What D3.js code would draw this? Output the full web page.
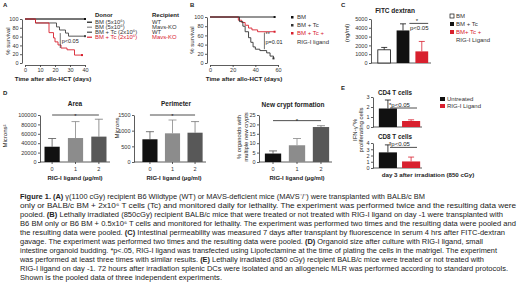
<!DOCTYPE html>
<html>
<head>
<meta charset="utf-8">
<script src="https://cdn.jsdelivr.net/npm/d3@7"></script>
<style>
  body { margin: 0; background: #fff; }
  text { font-family: "Liberation Sans", Arial, sans-serif; fill: #222; }
  .axis path, .axis line { stroke: #333; stroke-width: 0.8; }
  .axis text { font-size: 5.5px; fill: #333; }
</style>
</head>
<body>
<div id="fig"></div>
<script>
// ---- data ----
// panel A: survival, [day, % alive]
var survA_bmWt = [[0, 100], [40, 100]];
var survA_bmKo = [[0, 100], [40, 100]];
var survA_tcWt = [[0, 100], [7, 91], [21, 82], [23, 75], [27, 68], [29, 61], [40, 61]];
var survA_tcKo = [[0, 100], [7, 91], [16, 69], [19, 57], [20, 48], [22, 41], [24, 34], [28, 30], [33, 18], [38, 18]];
var daysA = [0, 10, 20, 30, 40];

// panel B: survival
var survB_bm = [[0, 100], [57, 100]];
var survB_tc = [[0, 100], [26, 90], [29, 80], [31, 68], [34, 55], [36, 45], [38, 35], [40, 30], [44, 27], [50, 22], [53, 15], [56, 10]];
var survB_rig = [[0, 100], [25, 93], [28, 88], [31, 82], [34, 76], [37, 72], [42, 68], [57, 68]];
var daysB = [0, 20, 40, 60];

// panel C: FITC dextran (ng/ml)
var fitcGroups = ["BM", "BM + Tc", "BM+ Tc + RIG-I Ligand"];
var fitcMean = [1500, 3700, 1320];
var fitcErr = [1770, 4450, 2450];

// panel D: organoids vs RIG-I ligand dose (µg/ml)
var doses = ["0", "1", "2"];
var areaMean = [32500, 51000, 54000];
var areaErr = [50000, 86000, 91000];
var perimMean = [725, 915, 935];
var perimErr = [967, 1340, 1290];
var cryptMean = [4.5, 8.9, 18.6];
var cryptErr = [5.9, 12.5, 19.3];

// panel E: IFN-g+ % proliferating cells
var eGroups = ["Untreated", "RIG-I Ligand"];
var cd4Mean = [1.85, 0.6];
var cd4Err = [2.7, 0.72];
var cd8Mean = [2.5, 1.05];
var cd8Err = [3.7, 1.75];

var RED = "#d8202e";

var caption = [
  "**Figure 1. (A)** γ(1100 cGy) recipient B6 Wildtype (WT) or MAVS-deficient mice (MAVS⁻/⁻)  were transplanted with BALB/c BM",
  "only or BALB/c BM + 2x10⁶ T cells (Tc) and monitored daily for lethality. The experiment was performed twice and the resulting data were",
  "pooled. **(B)** Lethally irradiated (850cGy) recipient BALB/c mice that were treated or not treated with RIG-I ligand on day -1 were transplanted with",
  "B6 BM only or B6 BM + 0.5x10⁶ T cells and monitored for lethality. The experiment was performed two times and the resulting data were pooled and",
  "the resulting data were pooled. **(C)** Intestinal permeability was measured 7 days after transplant by fluorescence in serum 4 hrs after FITC-dextran",
  "gavage. The experiment was performed two times and the resulting data were pooled.  **(D)** Organoid size after culture with RIG-I ligand, small",
  "intestine organoid budding. *p<.05, RIG-I ligand was transfected using Lipofectamine at the time of plating the cells in the matrigel. The experiment",
  "was performed at least three times with similar results. **(E)** Lethally irradiated (850 cGy) recipient BALB/c mice were treated or not treated with",
  "RIG-I ligand on day -1. 72 hours after irradiation splenic DCs were isolated and an allogeneic MLR was performed according to standard protocols.",
  "Shown is the pooled data of  three independent experiments."
];
var captionEnds = [425, 516, 503, 516, 505, 483, 497, 484, 508, 222];

// ---- svg ----
var svg = d3.select("#fig").append("svg")
  .attr("width", 520)
  .attr("height", 286);

function label(x, y, t, size, bold, anchor, color) {
  return svg.append("text")
    .attr("x", x).attr("y", y)
    .attr("font-size", size)
    .attr("font-weight", bold ? "bold" : "normal")
    .attr("text-anchor", anchor || "start")
    .style("fill", color || "#222")
    .text(t);
}

function vlabel(x, y, t, size) {
  return svg.append("text")
    .attr("transform", "translate(" + x + "," + y + ") rotate(-90)")
    .attr("font-size", size)
    .attr("text-anchor", "middle")
    .text(t);
}

// panel letters
label(3, 7, "A", 6, true);
label(190, 7, "B", 6, true);
label(341, 7, "C", 6, true);
label(3, 95, "D", 6, true);
label(341, 90, "E", 6, true);

// ---- survival helper ----
function survival(o) {
  var x = d3.scaleLinear().domain(o.xDomain).range(o.xRange);
  var y = d3.scaleLinear().domain([0, 100]).range(o.yRange);
  var g = svg.append("g");

  g.append("g").attr("class", "axis")
    .attr("transform", "translate(0," + (o.yRange[0] + 2) + ")")
    .call(d3.axisBottom(x).tickValues(o.ticks).tickSize(2).tickPadding(1).tickSizeOuter(0));
  g.append("g").attr("class", "axis")
    .attr("transform", "translate(" + (o.xRange[0] - 3) + ",0)")
    .call(d3.axisLeft(y).tickValues([0, 20, 40, 60, 80, 100]).tickSize(2).tickPadding(1.5).tickSizeOuter(0));

  var line = d3.line()
    .x(d => x(d[0]))
    .y(d => y(d[1]))
    .curve(d3.curveStepAfter);

  o.series.forEach(function (s) {
    g.append("path")
      .datum(s.data)
      .attr("d", line)
      .attr("fill", "none")
      .attr("stroke", s.color)
      .attr("stroke-width", 0.9);
    var last = s.data[s.data.length - 1];
    g.append("rect")
      .attr("x", x(last[0]) - 1).attr("y", y(last[1]) - 1)
      .attr("width", 2).attr("height", 2)
      .attr("fill", s.color);
  });
  return { x: x, y: y, g: g };
}

// ---- panel A ----
var pa = survival({
  xDomain: [0, 40], xRange: [25, 85], yRange: [63, 19], ticks: daysA,
  series: [
    { data: survA_bmKo, color: "#888" },
    { data: survA_bmWt, color: "#111" },
    { data: survA_tcWt, color: "#444" },
    { data: survA_tcKo, color: RED }
  ]
});
pa.g.append("line")
  .attr("x1", pa.x(23.5)).attr("x2", pa.x(23.5))
  .attr("y1", pa.y(68)).attr("y2", pa.y(34))
  .attr("stroke", "#333").attr("stroke-width", 0.7);
label(pa.x(24.5), pa.y(45), "p<0.05", 5.5);
vlabel(10, 41, "% survival", 6);
label(53, 81, "Time after allo-HCT (days)", 6.2, true, "middle");

// legend A
label(95, 17, "Donor", 6, true);
label(152, 17, "Recipient", 6, true);
var legA = [
  ["BM (5x10⁶)", "WT", "#111"],
  ["BM (5x10⁶)", "Mavs-KO", "#888"],
  ["BM + Tc (2x10⁶)", "WT", "#444"],
  ["BM + Tc (2x10⁶)", "Mavs-KO", RED]
];
legA.forEach(function (r, i) {
  var yy = 24 + i * 5;
  svg.append("line").attr("x1", 87).attr("x2", 92).attr("y1", yy - 1.8).attr("y2", yy - 1.8)
    .attr("stroke", r[2]).attr("stroke-width", 1.2);
  label(95, yy, r[0], 5.9, false, "start", r[2] === RED ? RED : "#333");
  label(152, yy, r[1], 5.9, false, "start", r[2] === RED ? RED : "#333");
});

// ---- panel B ----
var pb = survival({
  xDomain: [0, 60], xRange: [210, 278], yRange: [63, 17], ticks: daysB,
  series: [
    { data: survB_bm, color: "#111" },
    { data: survB_rig, color: RED },
    { data: survB_tc, color: "#333" }
  ]
});
pb.g.append("line")
  .attr("x1", pb.x(48)).attr("x2", pb.x(48))
  .attr("y1", pb.y(66)).attr("y2", pb.y(30))
  .attr("stroke", "#333").attr("stroke-width", 0.7);
label(pb.x(49), pb.y(59), "**", 5.5);
label(pb.x(49), pb.y(41), "p=0.01", 5.5);
vlabel(194, 40, "% survival", 6);
label(244, 81, "Time after allo-HCT (days)", 6.2, true, "middle");

var legB = [["BM", "#111"], ["BM + Tc", "#333"], ["BM + Tc +", RED]];
legB.forEach(function (r, i) {
  var yy = 19 + i * 8;
  svg.append("rect").attr("x", 291).attr("y", yy - 3).attr("width", 2.5).attr("height", 2.5).attr("fill", r[1]);
  label(297, yy, r[0], 6, false, "start", r[1] === RED ? RED : "#333");
});
label(297, 44, "RIG-I ligand", 6, false, "start", "#333");

// ---- bar helper ----
function bars(o) {
  var x = d3.scaleBand().domain(o.cats).range(o.xr).paddingInner(o.pad).paddingOuter(o.padOut);
  var y = d3.scaleLinear().domain([0, o.max]).range(o.yr);
  var g = svg.append("g");

  g.append("g").attr("class", "axis")
    .attr("transform", "translate(" + o.axisX + ",0)")
    .call(d3.axisLeft(y).tickValues(o.ticks).tickSize(2).tickPadding(1.5).tickSizeOuter(0).tickFormat(d3.format("d")));

  // baseline
  if (o.xLabels) {
    var xa = g.append("g").attr("class", "axis")
      .attr("transform", "translate(0," + o.yr[0] + ")")
      .call(d3.axisBottom(x).tickSize(2).tickSizeOuter(0));
    xa.select("path").attr("d", "M" + o.axisX + ",0H" + o.xr[1]);
  } else {
    g.append("line").attr("x1", o.axisX).attr("x2", o.xr[1])
      .attr("y1", o.yr[0]).attr("y2", o.yr[0])
      .attr("stroke", "#333").attr("stroke-width", 0.8);
  }

  var bw = x.bandwidth();
  o.means.forEach(function (m, i) {
    var cx = x(o.cats[i]) + bw / 2;
    var ec = o.errColors ? o.errColors[i] : "#333";
    g.append("line").attr("x1", cx).attr("x2", cx)
      .attr("y1", y(m)).attr("y2", y(o.errs[i]))
      .attr("stroke", ec).attr("stroke-width", 0.8);
    g.append("line").attr("x1", cx - o.cap).attr("x2", cx + o.cap)
      .attr("y1", y(o.errs[i])).attr("y2", y(o.errs[i]))
      .attr("stroke", ec).attr("stroke-width", 0.8);
    g.append("rect")
      .attr("x", x(o.cats[i])).attr("y", y(m))
      .attr("width", bw).attr("height", y(0) - y(m))
      .attr("fill", o.colors[i])
      .attr("stroke", o.colors[i] === "#fff" ? "#111" : "none")
      .attr("stroke-width", 0.8);
  });
  return { x: x, y: y, g: g, bw: bw };
}

function sigLine(p, c1, c2, v, star, size) {
  var x1 = p.x(c1) + p.bw / 2, x2 = p.x(c2) + p.bw / 2;
  p.g.append("line").attr("x1", x1).attr("x2", x2)
    .attr("y1", p.y(v)).attr("y2", p.y(v))
    .attr("stroke", "#222").attr("stroke-width", 0.8);
  if (star) label((x1 + x2) / 2, p.y(v) + 2.5, "*", size || 6, false, "middle");
}

// ---- panel C ----
var pc = bars({
  cats: fitcGroups, means: fitcMean, errs: fitcErr,
  colors: ["#fff", "#111", RED], errColors: ["#111", "#111", RED],
  xr: [375, 431], pad: 0.32, padOut: 0.15,
  max: 5000, yr: [63, 19], axisX: 371, ticks: [0, 1000, 2000, 3000, 4000, 5000], cap: 3
});
pc.g.append("line")
  .attr("x1", pc.x(fitcGroups[1]) + pc.bw).attr("x2", pc.x(fitcGroups[2]) + pc.bw)
  .attr("y1", pc.y(4500)).attr("y2", pc.y(4500))
  .attr("stroke", "#222").attr("stroke-width", 0.8);
label(417, pc.y(4500) - 0.5, "*", 6, false, "middle");
label(410, pc.y(4500) + 7, "p<0.05", 6);
label(395, 13, "FITC dextran", 6.5, true, "middle");
vlabel(349, 33, "(ng/ml)", 6);

var legC = [["BM", "#fff"], ["BM + Tc", "#111"], ["BM+ Tc +", RED]];
legC.forEach(function (r, i) {
  var yy = 18 + i * 8;
  svg.append("rect").attr("x", 450).attr("y", yy - 4).attr("width", 4).attr("height", 4)
    .attr("fill", r[1]).attr("stroke", r[1] === "#fff" ? "#111" : "none").attr("stroke-width", 0.7);
  label(456, yy, r[0], 6, false, "start", r[1] === RED ? RED : "#333");
});
label(456, 42, "RIG-I Ligand", 6, false, "start", "#333");

// ---- panel D ----
var dColors = ["#111", "#8c8c8c", "#585858"];
var dErr = ["#555", "#888", "#777"];

var pArea = bars({
  cats: doses, means: areaMean, errs: areaErr, colors: dColors, errColors: dErr,
  xr: [41, 110], pad: 0.35, padOut: 0.15, xLabels: true,
  max: 100000, yr: [162, 115], axisX: 40,
  ticks: [0, 20000, 40000, 60000, 80000, 100000], cap: 4
});
sigLine(pArea, "0", "2", 100000, true);
label(75, 106, "Area", 6.5, true, "middle");
vlabel(7, 136, "Microns²", 6);
label(75, 180, "RIG-I ligand  (µg/ml)", 6, true, "middle");

var pPer = bars({
  cats: doses, means: perimMean, errs: perimErr, colors: dColors, errColors: dErr,
  xr: [139, 206], pad: 0.33, padOut: 0.15, xLabels: true,
  max: 1500, yr: [162, 115], axisX: 134,
  ticks: [0, 500, 1000, 1500], cap: 4
});
sigLine(pPer, "0", "2", 1500, true);
label(176, 106, "Perimeter", 6.5, true, "middle");
vlabel(119, 128, "Microns", 6);
label(174, 180, "RIG-I ligand  (µg/ml)", 6, true, "middle");

var pCr = bars({
  cats: doses, means: cryptMean, errs: cryptErr, colors: dColors, errColors: dErr,
  xr: [262, 332], pad: 0.32, padOut: 0.12, xLabels: true,
  max: 25, yr: [162, 115], axisX: 259,
  ticks: [0, 5, 10, 15, 20, 25], cap: 4
});
sigLine(pCr, "0", "2", 22, true);
label(293, 107, "New crypt formation", 6.5, true, "middle");
vlabel(241, 137, "% organoids with", 5.8);
vlabel(248, 137, "multiple new crypts", 5.8);
label(297, 180, "RIG-I ligand  (µg/ml)", 6, true, "middle");

// ---- panel E ----
var pCd4 = bars({
  cats: eGroups, means: cd4Mean, errs: cd4Err, colors: ["#111", RED], errColors: ["#111", RED],
  xr: [377, 422], pad: 0.22, padOut: 0.08,
  max: 3, yr: [127, 97], axisX: 373, ticks: [0, 1, 2, 3], cap: 3
});
pCd4.g.append("line").attr("x1", 390).attr("x2", 417)
  .attr("y1", pCd4.y(1.9)).attr("y2", pCd4.y(1.9))
  .attr("stroke", "#222").attr("stroke-width", 0.8);
label(389, pCd4.y(1.9) - 1.5, "*p<0.05", 6);
label(395, 95, "CD4  T cells", 6.3, true, "middle");

var pCd8 = bars({
  cats: eGroups, means: cd8Mean, errs: cd8Err, colors: ["#111", RED], errColors: ["#111", RED],
  xr: [377, 422], pad: 0.22, padOut: 0.08,
  max: 4, yr: [168, 143], axisX: 373, ticks: [0, 1, 2, 3, 4], cap: 3
});
pCd8.g.append("line").attr("x1", 390).attr("x2", 417)
  .attr("y1", pCd8.y(3.3)).attr("y2", pCd8.y(3.3))
  .attr("stroke", "#222").attr("stroke-width", 0.8);
label(389, pCd8.y(3.3) - 1.5, "*p<0.05", 6);
label(395, 139, "CD8 T cells", 6.3, true, "middle");

vlabel(357, 130, "IFN-γ⁺%", 6);
vlabel(363, 130, "proliferating cells", 6);
label(428, 177, "day 3 after irradiation (850 cGy)", 6.2, true, "middle");

eGroups.forEach(function (n, i) {
  var yy = 101 + i * 7;
  svg.append("rect").attr("x", 440).attr("y", yy - 4).attr("width", 5).attr("height", 4)
    .attr("fill", i === 0 ? "#111" : RED);
  label(447, yy, n, 6, false, "start", "#333");
});

// ---- caption ----
caption.forEach(function (line, i) {
  var t = svg.append("text")
    .attr("x", 20)
    .attr("y", 198.5 + i * 9)
    .attr("font-size", 6.8)
    .attr("textLength", captionEnds[i] - 20)
    .attr("lengthAdjust", "spacingAndGlyphs");
  line.split("**").forEach(function (part, k) {
    if (!part) return;
    t.append("tspan")
      .attr("font-weight", k % 2 === 1 ? "bold" : "normal")
      .text(part);
  });
});
</script>
</body>
</html>
